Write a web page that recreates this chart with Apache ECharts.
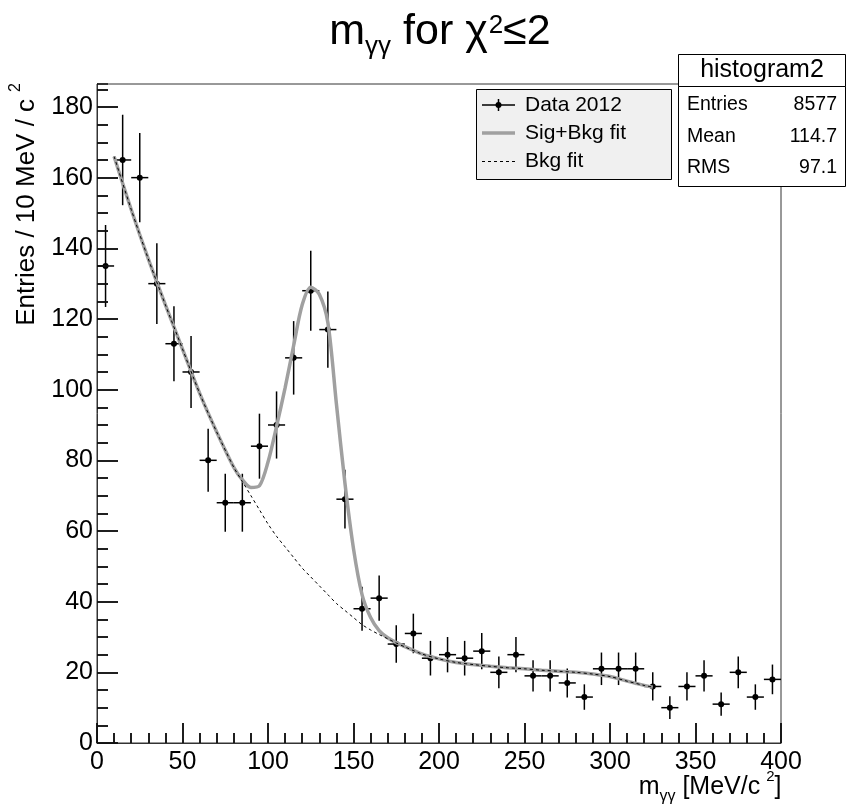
<!DOCTYPE html>
<html>
<head>
<meta charset="utf-8">
<script src="https://cdn.jsdelivr.net/npm/echarts@6/dist/echarts.min.js"></script>
<style>html,body{margin:0;padding:0;background:#fff}#c{width:850px;height:810px}</style>
</head>
<body>
<div id="c"></div>
<script>
// Histogram bins (centres, MeV/c^2), counts and vertical errors
const binCenters = [5,15,25,35,45,55,65,75,85,95,105,115,125,135,145,155,165,175,185,195,205,215,225,235,245,255,265,275,285,295,305,315,325,335,345,355,365,375,385,395];
const counts     = [135,165,160,130,113,105,80,68,68,84,90,109,128,117,69,38,41,28,31,24,25,24,26,20,25,19,19,17,13,21,21,21,16,10,16,19,11,20,13,18];
const errors     = [11.6,12.8,12.6,11.4,10.6,10.2,8.9,8.2,8.2,9.2,9.5,10.4,11.3,10.8,8.3,6.2,6.4,5.3,5.6,4.9,5.0,4.9,5.1,4.5,5.0,4.4,4.4,4.1,3.6,4.6,4.6,4.6,4.0,3.2,4.0,4.4,3.3,4.5,3.6,4.2];
const binHalfWidth = 5;

// Fit curves
const fitX   = [10,20,30,40,50,60,70,80,85,90,95,100,105,110,115,120,125,130,135,140,145,150,155,160,165,170,175,180,190,200,210,220,230,240,250,260,270,280,290,300,310,320,325];
const fitBkg = [166,151,137,124,111.5,99,88,78,74,70,66,62,58.5,55.5,52.5,49.5,47,44.5,42,39.5,37.5,35.5,33.5,32,30.7,29.5,28.3,27.2,25.2,23.8,22.8,22.2,21.7,21.3,21,20.6,20.3,20,19.5,18.8,17.5,16.3,15.8];
const fitSig = [166,151,137,124,111.5,99,88,78,74.5,72.3,72.8,79.5,89.6,100.5,112.5,124,129,127,119,96,73.5,55,42,35.5,31.8,29.8,28.4,27.3,25.2,23.8,22.8,22.2,21.7,21.3,21,20.6,20.3,20,19.5,18.8,17.5,16.3,15.8];

// Axis ranges and tick values
const xMin = 0, xMax = 400, xMajor = 50, xMinorSplit = 5;
const yMin = 0, yMax = 186.5, yMajor = 20, yMinor = 5;
const xMajorTicks = [0,50,100,150,200,250,300,350,400];
const xMinorStep = 10;
const yMajorTicks = [0,20,40,60,80,100,120,140,160,180];
const yMinorStep = 5;

// Stats box and legend
const statsTitle = 'histogram2';
const statsRows = [['Entries','8577'],['Mean','114.7'],['RMS','97.1']];
const legendItems = ['Data 2012','Sig+Bkg fit','Bkg fit'];

const FONT = 'Liberation Sans, Arial, Helvetica, sans-serif';
const AXC = '#333';
const TICKC = '#111';
const TICKW = 1.5;
const chart = echarts.init(document.getElementById('c'));

const histData = binCenters.map((x,i)=>[x, counts[i], errors[i]]);
const bkgData = fitX.map((x,i)=>[x, fitBkg[i]]);
const sigData = fitX.map((x,i)=>[x, fitSig[i]]);

const legendRowY = [105, 133, 161.5];
const statsRowY = [105, 136.5, 168];

const graphics = [
  {type:'text', x:440, y:32, z:100, style:{
    text:'{n|m}{s|γγ}{n| for χ}{p|2}{n|≤2}', textAlign:'center', textVerticalAlign:'middle', fill:'#000', font:'43px '+FONT,
    rich:{n:{fontSize:43, fontFamily:FONT, fill:'#000'}, s:{fontSize:26, fontFamily:FONT, fill:'#000', padding:[30,0,0,0]}, p:{fontSize:26, fontFamily:FONT, fill:'#000', padding:[0,0,13,1]}}
  }},
  {type:'text', x:26.5, y:83, rotation:Math.PI/2, z:100, style:{
    text:'{n|Entries / 10 MeV / c}{p|2}', textAlign:'right', textVerticalAlign:'middle', fill:'#000', font:'26px '+FONT,
    rich:{n:{fontSize:26, fontFamily:FONT, fill:'#000'}, p:{fontSize:16, fontFamily:FONT, fill:'#000', padding:[0,0,21,7]}}
  }},
  {type:'text', x:781.5, y:786.7, z:100, style:{
    text:'{n|m}{s|γγ}{n| [MeV/c}{p|2}{n|]}', textAlign:'right', textVerticalAlign:'middle', fill:'#000', font:'25px '+FONT,
    rich:{n:{fontSize:25, fontFamily:FONT, fill:'#000'}, s:{fontSize:16, fontFamily:FONT, fill:'#000', padding:[19,0,0,0]}, p:{fontSize:15, fontFamily:FONT, fill:'#000', padding:[0,0,20,6]}}
  }},
  {type:'rect', shape:{x:476.5, y:89.5, width:195, height:90}, style:{fill:'#f0f0f0', stroke:'#000', lineWidth:1}, z:100},
  {type:'line', shape:{x1:482, y1:legendRowY[0], x2:515, y2:legendRowY[0]}, style:{stroke:'#000', lineWidth:1.5}, z:101},
  {type:'line', shape:{x1:498.5, y1:legendRowY[0]-6, x2:498.5, y2:legendRowY[0]+6}, style:{stroke:'#000', lineWidth:1.5}, z:101},
  {type:'circle', shape:{cx:498.5, cy:legendRowY[0], r:3}, style:{fill:'#000'}, z:101},
  {type:'line', shape:{x1:482, y1:legendRowY[1], x2:515, y2:legendRowY[1]}, style:{stroke:'#a0a0a0', lineWidth:3.5}, z:101},
  {type:'line', shape:{x1:482, y1:legendRowY[2], x2:515, y2:legendRowY[2]}, style:{stroke:'#000', lineWidth:1, lineDash:[3,3]}, z:101},
  {type:'rect', shape:{x:678.5, y:54.5, width:167, height:32}, style:{fill:'#fff', stroke:'#000', lineWidth:1}, z:100},
  {type:'rect', shape:{x:678.5, y:86.5, width:167, height:100}, style:{fill:'#fff', stroke:'#000', lineWidth:1}, z:100},
  {type:'text', x:762, y:70, z:101, style:{text:statsTitle, textAlign:'center', textVerticalAlign:'middle', fill:'#000', font:'25px '+FONT}}
];
legendItems.forEach((t,i)=>graphics.push({type:'text', x:525, y:legendRowY[i], z:101, style:{text:t, textAlign:'left', textVerticalAlign:'middle', fill:'#000', font:'21px '+FONT}}));
statsRows.forEach((r,i)=>{
  graphics.push({type:'text', x:687, y:statsRowY[i], z:101, style:{text:r[0], textAlign:'left', textVerticalAlign:'middle', fill:'#000', font:'19.5px '+FONT}});
  graphics.push({type:'text', x:837, y:statsRowY[i], z:101, style:{text:r[1], textAlign:'right', textVerticalAlign:'middle', fill:'#000', font:'19.5px '+FONT}});
});

const gridPos = {left:97, right:69, top:84, bottom:67};
const tickStyle = {color:TICKC, width:TICKW};
chart.setOption({
  animation:false,
  backgroundColor:'#fff',
  grid:[Object.assign({show:true, borderColor:AXC, borderWidth:1}, gridPos), Object.assign({show:false}, gridPos)],
  xAxis:[
    {gridIndex:0, type:'value', min:xMin, max:xMax, interval:xMajor,
      axisLine:{show:true, lineStyle:{color:AXC}},
      axisTick:{show:true, inside:true, length:20, lineStyle:tickStyle},
      minorTick:{show:true, splitNumber:xMinorSplit, length:10, lineStyle:tickStyle},
      splitLine:{show:false},
      axisLabel:{color:'#000', fontSize:25, fontFamily:FONT, margin:7}
    },
    {gridIndex:1, type:'value', min:xMin, max:xMax, show:false}
  ],
  yAxis:[
    {gridIndex:0, type:'value', min:yMin, max:yMax, interval:yMajor,
      axisLine:{show:true, lineStyle:{color:AXC}},
      axisTick:{show:true, inside:true, length:21, lineStyle:tickStyle},
      splitLine:{show:false},
      axisLabel:{color:'#000', fontSize:25, fontFamily:FONT, margin:4, showMaxLabel:false}
    },
    {gridIndex:1, type:'value', min:yMin, max:yMax, interval:yMinor,
      axisLine:{show:false},
      axisTick:{show:true, inside:true, length:11, lineStyle:tickStyle},
      splitLine:{show:false},
      axisLabel:{show:false}
    }
  ],
  series:[
    {type:'custom', name:'Data 2012', xAxisIndex:0, yAxisIndex:0, z:3, data:histData,
      renderItem:function(params, api){
        const x = api.value(0), y = api.value(1), e = api.value(2);
        const c = api.coord([x, y]);
        const l = api.coord([x-binHalfWidth, y]), r = api.coord([x+binHalfWidth, y]);
        const t = api.coord([x, y+e]), b = api.coord([x, y-e]);
        const st = {stroke:'#000', lineWidth:1.5};
        return {type:'group', children:[
          {type:'line', shape:{x1:l[0], y1:c[1], x2:r[0], y2:c[1]}, style:st},
          {type:'line', shape:{x1:c[0], y1:t[1], x2:c[0], y2:b[1]}, style:st},
          {type:'circle', shape:{cx:c[0], cy:c[1], r:3}, style:{fill:'#000'}}
        ]};
      }
    },
    {type:'line', name:'Sig+Bkg fit', xAxisIndex:0, yAxisIndex:0, data:sigData, showSymbol:false, smooth:0.3, z:4,
      lineStyle:{color:'#a0a0a0', width:3.5}},
    {type:'line', name:'Bkg fit', xAxisIndex:0, yAxisIndex:0, data:bkgData, showSymbol:false, smooth:0.3, z:5,
      lineStyle:{color:'#000', width:1, type:[3,3]}}
  ]
});

// Backup ticks placed through the chart's own axis scales (same pixel snapping as ECharts axis ticks)
function snap(pos, lw){
  const d = Math.round(pos * 2);
  return (d + Math.round(lw)) % 2 === 0 ? d / 2 : (d + 1) / 2;
}
const tickEls = [];
function px(x, y){ return chart.convertToPixel({xAxisIndex:0, yAxisIndex:0}, [x, y]); }
function addX(v, len){
  const p = px(v, yMin);
  if (!p || !isFinite(p[0])) return;
  const x = snap(p[0], TICKW), y0 = snap(p[1], TICKW);
  tickEls.push({type:'line', z:50, silent:true, shape:{x1:x, y1:y0, x2:x, y2:y0-len}, style:{stroke:TICKC, lineWidth:TICKW}});
}
function addY(v, len){
  const p = px(xMin, v);
  if (!p || !isFinite(p[1])) return;
  const y = snap(p[1], TICKW), x0 = snap(p[0], TICKW);
  tickEls.push({type:'line', z:50, silent:true, shape:{x1:x0, y1:y, x2:x0+len, y2:y}, style:{stroke:TICKC, lineWidth:TICKW}});
}
xMajorTicks.forEach(v=>addX(v, 20));
for (let v = xMin + xMinorStep; v < xMax; v += xMinorStep) if (v % xMajor !== 0) addX(v, 10);
yMajorTicks.forEach(v=>addY(v, 21));
for (let v = yMin + yMinorStep; v < yMax; v += yMinorStep) if (v % yMajor !== 0) addY(v, 11);

chart.setOption({graphic: tickEls.concat(graphics)});
</script>
</body>
</html>
